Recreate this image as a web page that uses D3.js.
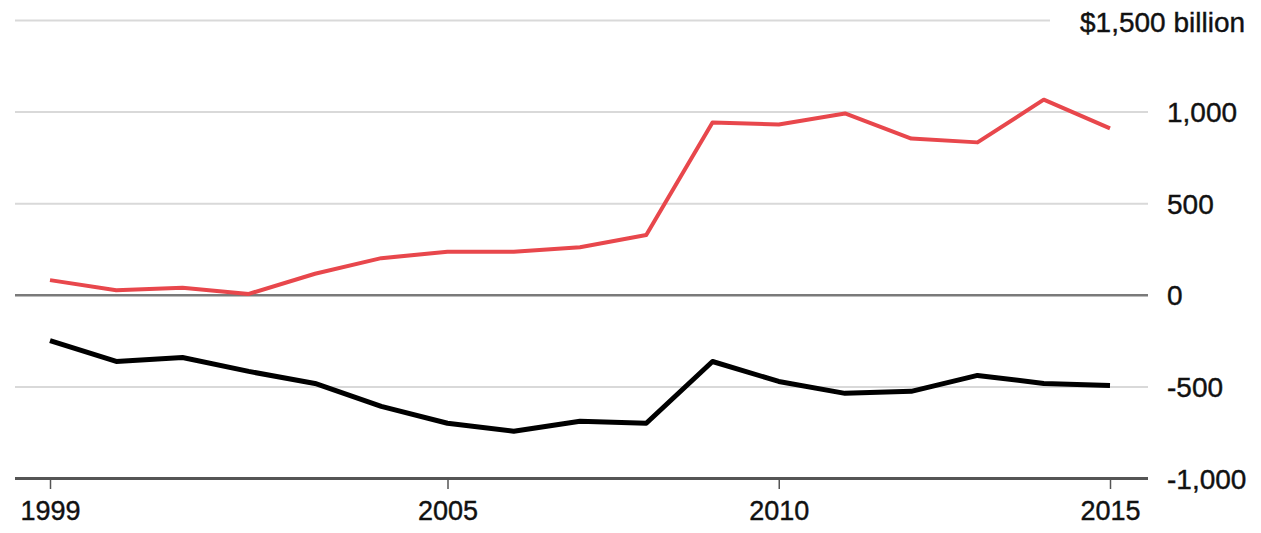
<!doctype html>
<html lang="en">

<head>
    <meta charset="utf-8">
    <title>d3 - two lines around zero</title>
    <script src="https://cdn.jsdelivr.net/npm/d3@7"></script>
    <style>
        body {
            margin: 0;
            background: #fff;
        }

        svg {
            font-family: "Liberation Sans", Arial, sans-serif;
        }
    </style>
</head>

<body>
    <svg></svg>
    <script>
        var width = 1261;
        var height = 533;

        var years = [1999, 2000, 2001, 2002, 2003, 2004, 2005, 2006, 2007,
            2008, 2009, 2010, 2011, 2012, 2013, 2014, 2015];
        var redValues = [80, 25, 38, 5, 115, 200, 235, 235, 260,
            326, 940, 930, 990, 853, 832, 1065, 908];
        var blackValues = [-250, -364, -342, -418, -484, -609, -701, -745, -690,
            -701, -364, -473, -538, -527, -440, -484, -495];
        var yTicks = [-1000, -500, 0, 500, 1000, 1500];
        var xTicks = [1999, 2005, 2010, 2015];

        var svg = d3.select('svg').attr('width', width).attr('height', height);

        var xScale = d3.scaleLinear()
            .domain([1999, 2015])
            .range([50, 1110]);

        var yScale = d3.scaleLinear()
            .domain([-1000, 1500])
            .range([478, 20]);

        var gridLeft = 15;
        var gridRight = 1148;
        var topGridRight = 1050; // top line stops before the unit label

        // y axis on the right, ticks stretched into gridlines
        var yAxis = d3.axisRight(yScale)
            .tickValues(yTicks)
            .tickSize(-(gridRight - gridLeft))
            .tickPadding(19)
            .tickFormat(function (d) {
                if (d === 1500) return '$1,500 billion';
                return d3.format(',')(d).replace('\u2212', '-');
            });

        var gy = svg.append('g')
            .attr('transform', 'translate(' + gridRight + ', 0)')
            .call(yAxis);

        gy.select('.domain').remove();
        gy.selectAll('.tick line')
            .attr('stroke', function (d) {
                if (d === 0) return '#7a7a7a';
                if (d === -1000) return '#555';
                return '#d9d9d9';
            })
            .attr('stroke-width', function (d) {
                if (d === -1000) return 3;
                return d === 0 ? 2.5 : 2;
            })
            .attr('x1', function (d) { return d === 1500 ? topGridRight - gridRight : 0; });
        gy.selectAll('.tick text')
            .attr('fill', '#111')
            .attr('stroke', '#111')
            .attr('stroke-width', 0.4)
            .style('font-size', '28px')
            .attr('x', function (d) { return d === 1500 ? -68 : 19; })
            .attr('dy', function (d) { return d === 1500 ? '0.42em' : '0.36em'; });

        // x axis
        var xAxis = d3.axisBottom(xScale)
            .tickValues(xTicks)
            .tickSize(11)
            .tickPadding(12)
            .tickFormat(d3.format('d'));

        var gx = svg.append('g')
            .attr('transform', 'translate(0, ' + yScale(-1000) + ')')
            .call(xAxis);

        gx.select('.domain').remove();
        gx.selectAll('.tick line').attr('stroke', '#555').attr('stroke-width', 1.5);
        gx.selectAll('.tick text')
            .attr('fill', '#111')
            .attr('stroke', '#111')
            .attr('stroke-width', 0.4)
            .style('font-size', '27px');

        var line = d3.line()
            .x(function (d, i) { return xScale(years[i]); })
            .y(function (d) { return yScale(d); });

        svg.append('path')
            .datum(redValues)
            .attr('d', line)
            .attr('fill', 'none')
            .attr('stroke', '#e8474c')
            .attr('stroke-width', 4)
            .attr('stroke-linejoin', 'round');

        svg.append('path')
            .datum(blackValues)
            .attr('d', line)
            .attr('fill', 'none')
            .attr('stroke', '#000')
            .attr('stroke-width', 5)
            .attr('stroke-linejoin', 'round');
    </script>

</body>

</html>
